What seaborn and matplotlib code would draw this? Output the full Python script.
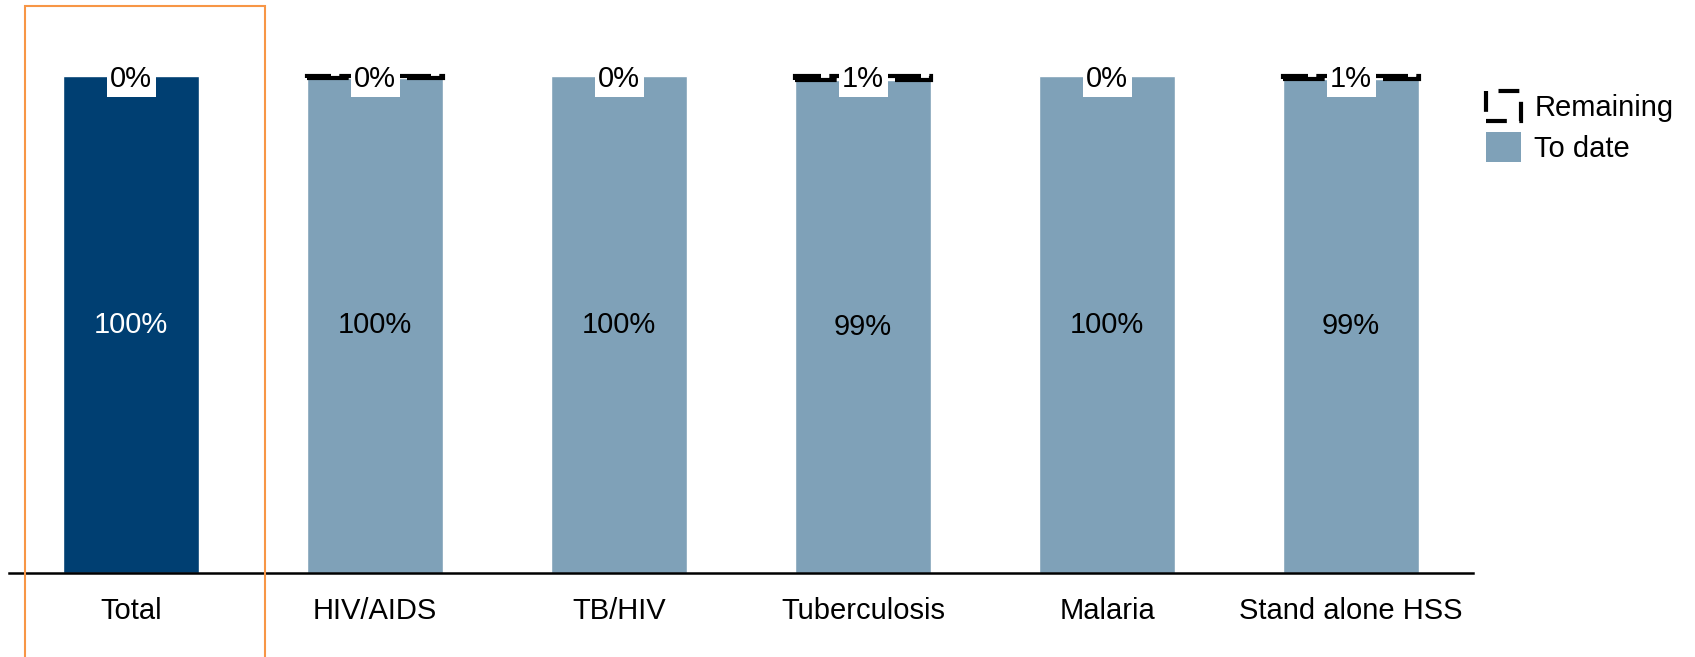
import matplotlib
matplotlib.use('Agg')
import matplotlib.pyplot as plt
import seaborn as sns
import pandas as pd
from matplotlib.patches import Patch, Rectangle

# Chart values
categories = ['Total', 'HIV/AIDS', 'TB/HIV', 'Tuberculosis', 'Malaria', 'Stand alone HSS']
to_date = [100, 99.7, 100, 99.2, 100, 99.5]
remaining = [0, 0.3, 0, 0.8, 0, 0.5]
inner_labels = ['100%', '100%', '100%', '99%', '100%', '99%']
top_labels = ['0%', '0%', '0%', '1%', '0%', '1%']

df = pd.DataFrame({'cat': categories, 'to_date': to_date, 'remaining': remaining})

dark = '#003F72'
light = '#7FA1B8'
palette = [dark] + [light] * (len(categories) - 1)

sns.set_style('white')
plt.rcParams['font.family'] = ['Liberation Sans', 'DejaVu Sans']
FS = 21

fig = plt.figure(figsize=(16.95, 6.57), dpi=100)
ax = fig.add_axes([9 / 1695, 84 / 657, 1464 / 1695, 567 / 657])

sns.barplot(data=df, x='cat', y='to_date', hue='cat', palette=palette, legend=False,
            width=0.557, saturation=1, ax=ax)

# Remaining portion: dashed outline on top of the to-date bar
dash = (0, (10, 2))
for i, (base, rem) in enumerate(zip(to_date, remaining)):
    if rem > 0:
        ax.bar(i, rem, bottom=base, width=0.557, facecolor='none', edgecolor='black',
               linewidth=3, linestyle=dash, zorder=3)

# Labels
for i, (base, rem) in enumerate(zip(to_date, remaining)):
    ax.text(i, base / 2, inner_labels[i], ha='center', va='center', fontsize=FS,
            color='white' if i == 0 else 'black')
    ax.text(i, base + rem - 0.6, top_labels[i], ha='center', va='center', fontsize=FS,
            color='black', zorder=4,
            bbox=dict(facecolor='white', edgecolor='none', pad=2.5))

ax.set_xlim(-0.5, len(categories) - 0.5)
ax.set_ylim(0, 114.1)
ax.set_xlabel('')
ax.set_ylabel('')
ax.set_yticks([])
ax.tick_params(axis='x', length=0, pad=17, labelsize=FS, labelcolor='black')
for s in ['top', 'right', 'left']:
    ax.spines[s].set_visible(False)
ax.spines['bottom'].set_color('black')
ax.spines['bottom'].set_linewidth(1.8)

# Highlight box around Total
fig.patches.append(Rectangle((25 / 1695, -0.02), 240 / 1695, 1.02 - 6 / 657,
                             transform=fig.transFigure, facecolor='none',
                             edgecolor='#F79646', linewidth=1.5))

handles = [Patch(facecolor='none', edgecolor='black', linestyle=(0, (5, 3)), linewidth=3),
           Patch(facecolor=light, edgecolor='none')]
fig.legend(handles, ['Remaining', 'To date'], loc='upper left',
           bbox_to_anchor=(1460 / 1695, 1 - 65 / 657), frameon=False, fontsize=FS,
           handlelength=1.2, handleheight=1.2, handletextpad=0.45, labelspacing=0.35,
           labelcolor='black')

fig.savefig('out.png', dpi=100)
